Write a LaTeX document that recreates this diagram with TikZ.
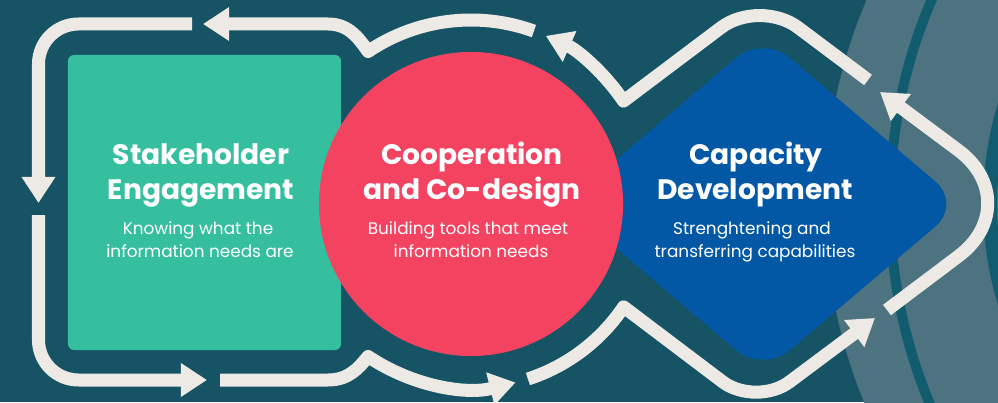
\documentclass[tikz,border=0pt]{standalone}
\usepackage{fontspec}
\setmainfont{Poppins}
\usetikzlibrary{arrows.meta,shapes.geometric,positioning}

\begin{document}
\begin{tikzpicture}[x=0.025cm,y=0.025cm,
    flow/.style={draw=color_arrow,line width=0.325cm,line join=round},
    flowtip/.style={-{Triangle[width=0.8cm,length=0.65cm]}},
    head/.style={text=white,font=\fontsize{20}{24}\selectfont\bfseries,inner sep=0,anchor=base},
    sub/.style={text=white,font=\fontsize{12}{14}\selectfont,inner sep=0,anchor=base}]
    \definecolor{color_bg}{HTML}{165365}
    \definecolor{color_swirl}{HTML}{4E7380}
    \definecolor{color_ring}{HTML}{125C70}
    \definecolor{color_green}{HTML}{36BF9F}
    \definecolor{color_red}{HTML}{F44361}
    \definecolor{color_blue}{HTML}{0358A6}
    \definecolor{color_arrow}{HTML}{EDEAE5}
    \useasboundingbox (0,0) rectangle (998,402);
    \fill[color_bg] (0,0) rectangle (998,402);

    % swirl on the right
    \fill[color_swirl] (1345,198) circle (520);
    \draw[color_ring,line width=0.25cm] (1410,198) circle (520);
    \draw[color_ring,line width=0.35cm] (1330,198) circle (340);

    % the three stages
    \node[fill=color_green,rounded corners=0.15cm,minimum width=6.825cm,minimum height=7.375cm,inner sep=0] (stake_box) at (204.5,199.5) {};
    \node[diamond,fill=color_blue,rounded corners=0.875cm,minimum width=9.95cm,minimum height=8.45cm,inner sep=0] (cap_box) at (763,198) {};
    \node[circle,fill=color_red,minimum size=7.6cm,inner sep=0] (coop_circle) at (471,198) {};

    \node[head] (stake_title_a) at (201,237) {Stakeholder};
    \node[head] (stake_title_b) at (201,202) {Engagement};
    \node[sub] (stake_text_a) at (198,167) {Knowing what the};
    \node[sub] (stake_text_b) at (200,145) {information needs are};

    \node[head] (coop_title_a) at (472,237) {Cooperation};
    \node[head] (coop_title_b) at (472,202) {and Co-design};
    \node[sub] (coop_text_a) at (468,167) {Building tools that meet};
    \node[sub] (coop_text_b) at (471,145) {information needs};

    \node[head] (cap_title_a) at (756,237) {Capacity};
    \node[head] (cap_title_b) at (755,202) {Development};
    \node[sub] (cap_text_a) at (752,167) {Strenghtening and};
    \node[sub] (cap_text_b) at (755,145) {transferring capabilities};

    % arrows round the stages
    \draw[flow,flowtip] (192,378) [rounded corners=1cm] -- (38.5,378) -- (38.5,199);
    \draw[flow,flowtip] (533.9,370.9) arc[start angle=70,end angle=124,radius=184] .. controls (358,365) and (348,378) .. (328,378) -- (203,378);
    \draw[flow,flowtip] (38.5,187) [rounded corners=1cm] -- (38.5,22) -- (207,22);
    \draw[flow,flowtip] (220,22) -- (328,22) .. controls (348,22) and (358,33) .. (368.1,45.5) arc[start angle=236,end angle=284,radius=184];
    \draw[flow,flowtip] (527.9,23) arc[start angle=288,end angle=326,radius=184] -- (722.5,20.3) .. controls (740.9,6.4) and (771.1,6.3) .. (789.6,20.2) -- (875,84);
    \draw[flow,flowtip] (887,92) [rounded corners=2.2cm] -- (1029,199) -- (880,310);
    \draw[flow,flowtip] (868,322) -- (797.9,374.6) .. controls (776.8,390.4) and (742.3,390.4) .. (721.2,374.5) -- (623.5,300.9) arc[start angle=34,end angle=66,radius=184];

  \end{tikzpicture}
\end{document}
